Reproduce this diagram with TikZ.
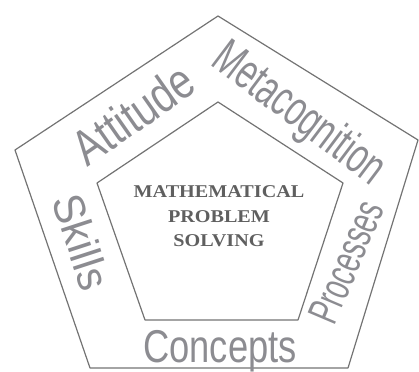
\documentclass[tikz,border=0pt]{standalone}
\usepackage{fontspec}
\setmainfont{Liberation Serif}
\newfontfamily\labfont{Liberation Sans}
\definecolor{linegray}{RGB}{115,115,115}
\definecolor{labgray}{RGB}{140,140,145}
\definecolor{ctrgray}{RGB}{95,95,95}
\begin{document}
\begin{tikzpicture}[x=1pt,y=-1pt,
  penta/.style={draw=linegray, line width=1.2pt, line join=round},
  lab/.style={text=labgray, inner sep=0pt},
  ctr/.style={text=ctrgray, inner sep=0pt, anchor=base, font=\fontsize{18}{18}\selectfont\bfseries}]
\useasboundingbox (0,0) rectangle (419,371);
% outer pentagon
\coordinate (o1) at (218,16);
\coordinate (o2) at (418,140);
\coordinate (o3) at (348,368);
\coordinate (o4) at (90,368);
\coordinate (o5) at (15,150);
% inner pentagon
\coordinate (i1) at (218,102);
\coordinate (i2) at (343,183);
\coordinate (i3) at (298,320);
\coordinate (i4) at (145,320);
\coordinate (i5) at (97,183);
\draw[penta] (o1) -- (o2) -- (o3) -- (o4) -- (o5) -- cycle;
\draw[penta] (i1) -- (i2) -- (i3) -- (i4) -- (i5) -- cycle;
% labels
\node[lab, rotate=35, font=\labfont\fontsize{50}{50}\selectfont] (att) at (133,114) {\scalebox{0.8}[1]{Attitude}};
\node[lab, rotate=-37, font=\labfont\fontsize{50}{50}\selectfont] (meta) at (298,115) {\scalebox{0.65}[1]{Metacognition}};
\node[lab, rotate=-72, font=\labfont\fontsize{44}{44}\selectfont] (skills) at (82,242) {\scalebox{0.95}[1]{Skills}};
\node[lab, rotate=67, font=\labfont\fontsize{43}{43}\selectfont] (proc) at (346,262) {\scalebox{0.64}[1]{Processes}};
\node[lab, anchor=base, font=\labfont\fontsize{46}{46}\selectfont] (conc) at (220,362) {\scalebox{0.79}[1]{Concepts}};
% centre text
\node[ctr] (t1) at (219,197) {\scalebox{1.12}[1]{MATHEMATICAL}};
\node[ctr] (t2) at (219,222) {\scalebox{1.12}[1]{PROBLEM}};
\node[ctr] (t3) at (219,246) {\scalebox{1.12}[1]{SOLVING}};
\end{tikzpicture}
\end{document}
